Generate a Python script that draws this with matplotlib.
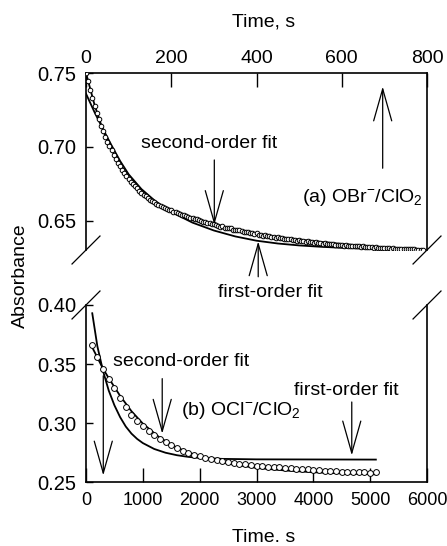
import matplotlib
matplotlib.use("Agg")
import matplotlib.pyplot as plt
from matplotlib.ticker import FormatStrFormatter

plt.rcParams['font.family'] = ['Liberation Sans', 'DejaVu Sans']
plt.rcParams['mathtext.fontset'] = 'custom'
plt.rcParams['mathtext.rm'] = 'Liberation Sans'

# (a) OBr-/ClO2, time in s (top axis), one reading every 5 s
t_a = list(range(0, 795, 5))
abs_a = [0.7500, 0.7445, 0.7388, 0.7330, 0.7280, 0.7230, 0.7188, 0.7142, 0.7105, 0.7068,
         0.7036, 0.7003, 0.6976, 0.6945, 0.6921, 0.6893, 0.6871, 0.6846, 0.6826, 0.6803,
         0.6786, 0.6766, 0.6751, 0.6733, 0.6719, 0.6703, 0.6691, 0.6676, 0.6666, 0.6652,
         0.6644, 0.6632, 0.6625, 0.6613, 0.6608, 0.6598, 0.6593, 0.6584, 0.6581, 0.6573,
         0.6571, 0.6562, 0.6560, 0.6552, 0.6549, 0.6541, 0.6539, 0.6531, 0.6529, 0.6521,
         0.6519, 0.6512, 0.6511, 0.6503, 0.6502, 0.6494, 0.6493, 0.6486, 0.6485, 0.6477,
         0.6479, 0.6470, 0.6468, 0.6462, 0.6464, 0.6455, 0.6454, 0.6449, 0.6450, 0.6441,
         0.6441, 0.6435, 0.6437, 0.6429, 0.6428, 0.6423, 0.6425, 0.6417, 0.6417, 0.6412,
         0.6415, 0.6406, 0.6407, 0.6401, 0.6404, 0.6396, 0.6397, 0.6391, 0.6394, 0.6387,
         0.6388, 0.6383, 0.6386, 0.6379, 0.6380, 0.6375, 0.6378, 0.6371, 0.6372, 0.6367,
         0.6371, 0.6363, 0.6364, 0.6360, 0.6362, 0.6356, 0.6358, 0.6353, 0.6356, 0.6350,
         0.6352, 0.6347, 0.6349, 0.6344, 0.6346, 0.6341, 0.6343, 0.6339, 0.6340, 0.6336,
         0.6339, 0.6333, 0.6335, 0.6331, 0.6333, 0.6329, 0.6331, 0.6327, 0.6329, 0.6325,
         0.6327, 0.6323, 0.6325, 0.6321, 0.6323, 0.6319, 0.6320, 0.6317, 0.6318, 0.6316,
         0.6318, 0.6314, 0.6315, 0.6313, 0.6314, 0.6311, 0.6312, 0.6310, 0.6311, 0.6309,
         0.6310, 0.6308, 0.6308, 0.6307, 0.6307, 0.6306, 0.6306, 0.6305, 0.6305]
tfit_a = [0, 20, 40, 60, 80, 100, 130, 160, 200, 250, 300, 350, 400, 450, 500, 550, 600, 650, 700, 750, 790]
second_a = [0.7500, 0.7285, 0.7110, 0.6980, 0.6878, 0.6795, 0.6700, 0.6630, 0.6565, 0.6505, 0.6468,
            0.6438, 0.6413, 0.6392, 0.6374, 0.6358, 0.6344, 0.6332, 0.6321, 0.6311, 0.6305]
first_a = [0.7360, 0.7235, 0.7120, 0.7010, 0.6905, 0.6815, 0.6715, 0.6640, 0.6560, 0.6488, 0.6435,
           0.6395, 0.6366, 0.6347, 0.6334, 0.6325, 0.6318, 0.6313, 0.6310, 0.6308, 0.6306]

# (b) OCl-/ClO2, time in s (bottom axis)
t_b = [100, 200, 300, 400, 500, 600, 700, 800, 900, 1000, 1100, 1200, 1300, 1400, 1500, 1600, 1700,
       1800, 1900, 2000, 2100, 2200, 2300, 2400, 2500, 2600, 2700, 2800, 2900, 3000, 3100, 3200, 3300,
       3400, 3500, 3600, 3700, 3800, 3900, 4000, 4100, 4200, 4300, 4400, 4500, 4600, 4700, 4800, 4900,
       5000, 5100]
abs_b = [0.3665, 0.3560, 0.3455, 0.3375, 0.3300, 0.3210, 0.3135, 0.3070, 0.3018, 0.2972,
         0.2932, 0.2896, 0.2868, 0.2842, 0.2810, 0.2785, 0.2765, 0.2748, 0.2732, 0.2718,
         0.2706, 0.2695, 0.2686, 0.2678, 0.2670, 0.2662, 0.2655, 0.2649, 0.2644, 0.2639,
         0.2635, 0.2631, 0.2627, 0.2623, 0.2620, 0.2617, 0.2613, 0.2610, 0.2606, 0.2603,
         0.2600, 0.2597, 0.2594, 0.2592, 0.2589, 0.2587, 0.2585, 0.2583, 0.2581, 0.2580, 0.2583]
tsec_b = [100, 200, 300, 400, 600, 800, 1000, 1300, 1600, 2000, 2500, 3000, 3500, 4000, 4500, 5100]
second_b = [0.3650, 0.3555, 0.3460, 0.3380, 0.3230, 0.3100, 0.2995, 0.2875, 0.2790, 0.2715,
            0.2655, 0.2620, 0.2598, 0.2583, 0.2573, 0.2565]
tfirst_b = [110, 200, 300, 400, 500, 600, 700, 800, 900, 1000, 1200, 1400, 1600, 1800, 2000, 2400,
            3000, 4000, 5100]
first_b = [0.3930, 0.3650, 0.3440, 0.3275, 0.3150, 0.3050, 0.2970, 0.2910, 0.2865, 0.2830,
           0.2780, 0.2748, 0.2727, 0.2713, 0.2704, 0.2696, 0.2692, 0.2691, 0.2690]

fig = plt.figure(figsize=(4.47, 5.46), dpi=100)
ax1 = fig.add_axes([0.1924, 0.5421, 0.7629, 0.3242])
ax2 = fig.add_axes([0.1924, 0.1172, 0.7629, 0.3242])

lw = 1.3
ax1.plot(t_a, abs_a, 'o', ms=3.3, mfc='white', mec='black', mew=0.7, zorder=3)
ax1.plot(tfit_a, second_a, '-', color='black', lw=lw, zorder=2)
ax1.plot(tfit_a, first_a, '-', color='black', lw=lw, zorder=2)

ax2.plot(t_b, abs_b, 'o', ms=4.2, mfc='white', mec='black', mew=0.7, zorder=3)
ax2.plot(tsec_b, second_b, '-', color='black', lw=lw, zorder=2)
ax2.plot(tfirst_b, first_b, '-', color='black', lw=lw, zorder=2)

tick_fs = 14.5
fs = 14

ax1.set_xlim(0, 800)
ax1.set_ylim(0.6303, 0.75)
ax1.set_xticks([0, 200, 400, 600, 800])
ax1.set_yticks([0.65, 0.70, 0.75])
ax1.yaxis.set_major_formatter(FormatStrFormatter('%.2f'))
ax1.xaxis.tick_top()
ax1.spines['bottom'].set_visible(False)
ax1.tick_params(axis='x', direction='in', length=10, width=1, pad=4, labelsize=14,
                top=True, bottom=False)
ax1.tick_params(axis='y', direction='in', length=5, width=1, pad=7, labelsize=tick_fs, right=False)

ax2.set_xlim(0, 6000)
ax2.set_ylim(0.25, 0.40)
ax2.set_xticks([0, 1000, 2000, 3000, 4000, 5000, 6000])
ax2.set_yticks([0.25, 0.30, 0.35, 0.40])
ax2.yaxis.set_major_formatter(FormatStrFormatter('%.2f'))
ax2.spines['top'].set_visible(False)
ax2.tick_params(axis='x', direction='in', length=10, width=1, pad=7, labelsize=13, top=False)
ax2.tick_params(axis='y', direction='in', length=5, width=1, pad=7, labelsize=tick_fs, right=False)

for ax in (ax1, ax2):
    for s in ax.spines.values():
        s.set_linewidth(1.2)

# break marks
dx, dy = 0.041, 0.079
for x0 in (0, 1):
    ax1.plot([x0 - dx, x0 + dx], [-dy, dy], color='black', lw=0.9,
             transform=ax1.transAxes, clip_on=False)
    ax2.plot([x0 - dx, x0 + dx], [1 - dy, 1 + dy], color='black', lw=0.9,
             transform=ax2.transAxes, clip_on=False)

arrow = dict(arrowstyle='->,head_length=2.3,head_width=0.65', lw=0.9, color='black',
             shrinkA=0, shrinkB=0, mutation_scale=10)

ax1.annotate('', xy=(301, 0.6473), xytext=(301, 0.6912), arrowprops=arrow)
ax1.annotate('', xy=(696, 0.7408), xytext=(696, 0.6856), arrowprops=arrow)
ax1.annotate('', xy=(404, 0.6361), xytext=(404, 0.6122), arrowprops=arrow,
             annotation_clip=False)
ax1.text(289, 0.699, 'second-order fit', ha='center', va='baseline', fontsize=fs)
ax1.text(790, 0.6626, r'(a) OBr$^{\mathrm{-}}$/ClO$_{\mathrm{2}}$', ha='right', va='baseline',
         fontsize=fs)
ax1.text(432, 0.5986, 'first-order fit', ha='center', va='baseline', fontsize=fs, clip_on=False)

ax2.annotate('', xy=(304, 0.2556), xytext=(304, 0.340), arrowprops=arrow)
ax2.annotate('', xy=(1341, 0.291), xytext=(1341, 0.3376), arrowprops=arrow)
ax2.annotate('', xy=(4676, 0.2726), xytext=(4676, 0.3178), arrowprops=arrow)
ax2.text(1672, 0.3483, 'second-order fit', ha='center', va='baseline', fontsize=fs)
ax2.text(1672, 0.3068, r'(b) OCl$^{\mathrm{-}}$/ClO$_{\mathrm{2}}$', ha='left', va='baseline',
         fontsize=fs)
ax2.text(3660, 0.3237, 'first-order fit', ha='left', va='baseline', fontsize=fs)

fig.text(264 / 447, 1 - 22 / 546, 'Time, s', ha='center', va='center', fontsize=fs)
fig.text(264 / 447, 1 - 537 / 546, 'Time. s', ha='center', va='center', fontsize=fs)
fig.text(20 / 447, 1 - 276 / 546, 'Absorbance', ha='center', va='center', rotation=90,
         fontsize=fs)

fig.savefig('out.png', dpi=100)
